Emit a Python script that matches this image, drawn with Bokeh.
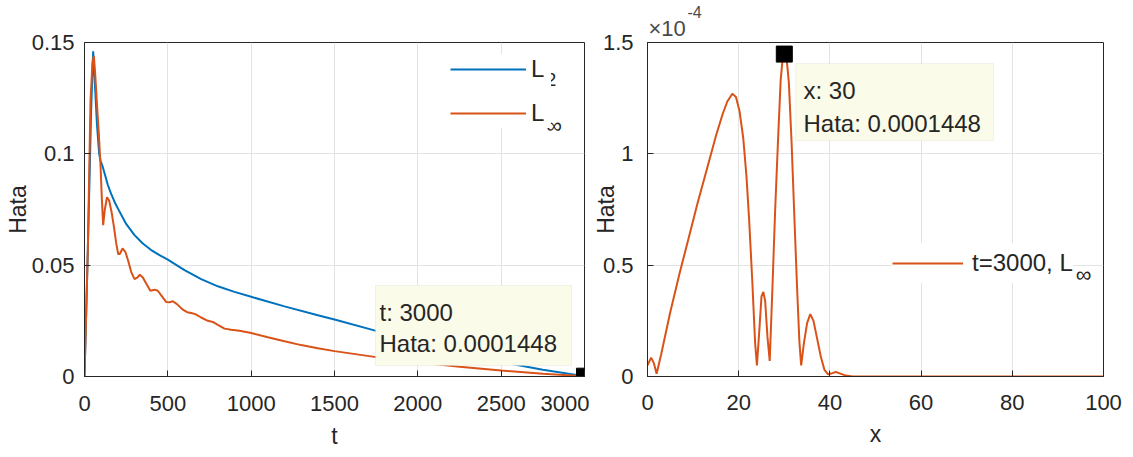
from bokeh.plotting import figure
from bokeh.layouts import row
from bokeh.models import (Legend, LegendItem, Label, BoxAnnotation, FixedTicker,
                          CustomJSTickFormatter, Range1d, Title)
from bokeh.embed import file_html
from bokeh.resources import INLINE

BLUE = "#0072BD"
ORANGE = "#D95319"
FONT = "Liberation Sans"
TXT = "#262626"

# ---------------- data: left panel (error vs time) ----------------
t_l2 = [0, 10, 20, 30, 40, 52, 62, 75, 88, 96, 110, 125, 140, 160, 180, 200, 250, 300,
        350, 400, 450, 500, 600, 700, 800, 900, 1000, 1200, 1400, 1500,
        1750, 2000, 2250, 2500, 2750, 3000]
l2 = [0, 0.028, 0.057, 0.088, 0.12, 0.146, 0.132, 0.113, 0.1, 0.097, 0.094, 0.09, 0.086,
      0.082, 0.0785, 0.0755, 0.0685, 0.0635, 0.0597, 0.0568, 0.0545, 0.0525, 0.0478,
      0.0437, 0.0405, 0.038, 0.0358, 0.0315, 0.0275, 0.0256, 0.0205,
      0.0155, 0.0108, 0.0065, 0.003, 0.00015]

t_linf = [0, 10, 20, 36, 48, 56, 64, 75, 86, 96, 104, 112, 122, 135, 148, 162, 176, 190,
          202, 212, 228, 245, 262, 280, 300, 318, 332, 350, 372, 395, 420, 440, 465, 490,
          510, 530, 555, 590, 616, 640, 665, 700, 740, 770, 800, 840, 880, 930, 1000,
          1100, 1200, 1300, 1400, 1500, 1750, 2000, 2250, 2500, 2750, 3000]
linf = [0, 0.028, 0.057, 0.124, 0.141, 0.144, 0.136, 0.122, 0.109, 0.095, 0.08, 0.068,
        0.075, 0.0805, 0.079, 0.074, 0.0675, 0.06, 0.055, 0.055, 0.0575, 0.056, 0.052,
        0.047, 0.0437, 0.0445, 0.0457, 0.0445, 0.0415, 0.0385, 0.039, 0.0385, 0.036,
        0.0335, 0.0333, 0.0338, 0.0325, 0.030, 0.0289, 0.0285, 0.028, 0.0265, 0.025,
        0.0245, 0.0232, 0.0215, 0.021, 0.0205, 0.0195, 0.0176, 0.0158, 0.0141, 0.0127,
        0.0114, 0.0087, 0.0064, 0.0044, 0.0027, 0.0012, 0.0001448]

# ---------------- data: right panel (error vs x at t=3000) ----------------
x_pos = [0, 0.8, 1.4, 2.0, 3, 5, 7, 9, 11, 13, 15, 16.5, 17.5, 18.6, 19.4, 20.2, 21,
         21.7, 22.3, 23, 23.6, 24, 24.5, 25, 25.4, 25.8, 26.3, 26.8, 27.4, 28, 28.6,
         29.2, 29.6, 30, 30.5, 31, 31.6, 32.2, 32.8, 33.3, 33.7, 34.3, 35, 35.7, 36.4,
         37.2, 38, 38.8, 39.6, 40.5, 41.3, 42.3, 43.5, 45, 50, 60, 70, 80, 90, 100]
hata_x1e4 = [0.05, 0.085, 0.06, 0.012, 0.1, 0.29, 0.46, 0.62, 0.78, 0.93, 1.08, 1.18,
             1.235, 1.27, 1.255, 1.19, 1.07, 0.9, 0.7, 0.42, 0.15, 0.05, 0.2, 0.36, 0.38,
             0.34, 0.18, 0.07, 0.4, 0.75, 1.05, 1.33, 1.42, 1.448, 1.43, 1.32, 1.05, 0.72,
             0.4, 0.16, 0.05, 0.15, 0.24, 0.28, 0.25, 0.17, 0.09, 0.03, 0.01, 0.015, 0.02,
             0.013, 0.004, 0, 0, 0, 0, 0, 0, 0]
hata = [v * 1e-4 for v in hata_x1e4]

left_xticks = [0, 500, 1000, 1500, 2000, 2500, 3000]
left_yticks = [0, 0.05, 0.1, 0.15]
right_xticks = [0, 20, 40, 60, 80, 100]
right_yticks = [0, 0.5e-4, 1e-4, 1.5e-4]


def style(p, tick_standoff_x, tick_standoff_y, xlab_standoff, ylab_standoff):
    p.background_fill_color = "white"
    p.border_fill_color = "white"
    p.outline_line_color = TXT
    p.outline_line_width = 1
    p.grid.grid_line_color = "#E3E3E3"
    p.grid.grid_line_width = 1
    for ax in (p.xaxis[0], p.yaxis[0]):
        ax.axis_line_color = TXT
        ax.major_tick_line_color = TXT
        ax.major_tick_in = 6
        ax.major_tick_out = 0
        ax.minor_tick_line_color = None
        ax.major_label_text_font = FONT
        ax.major_label_text_font_size = "22px"
        ax.major_label_text_color = TXT
        ax.axis_label_text_font = FONT
        ax.axis_label_text_font_size = "23px"
        ax.axis_label_text_font_style = "normal"
        ax.axis_label_text_color = TXT
    p.xaxis[0].major_label_standoff = tick_standoff_x
    p.yaxis[0].major_label_standoff = tick_standoff_y
    p.xaxis[0].axis_label_standoff = xlab_standoff
    p.yaxis[0].axis_label_standoff = ylab_standoff


# ---------------- left figure ----------------
p1 = figure(width=589, height=457, x_range=Range1d(0, 3000), y_range=Range1d(0, 0.15),
            min_border_left=84, min_border_right=5, min_border_top=42, min_border_bottom=81,
            output_backend="svg", toolbar_location=None, x_axis_label="t", y_axis_label="Hata")
p1.title_location = None
style(p1, 19, 10, 9, -2)
p1.xaxis[0].ticker = FixedTicker(ticks=left_xticks)
p1.yaxis[0].ticker = FixedTicker(ticks=left_yticks)
p1.yaxis[0].formatter = CustomJSTickFormatter(code="return tick.toString();")

r_l2 = p1.line(t_l2, l2, line_color=BLUE, line_width=2)
r_linf = p1.line(t_linf, linf, line_color=ORANGE, line_width=2)

leg1 = Legend(items=[LegendItem(label="L", renderers=[r_l2]),
                     LegendItem(label="L", renderers=[r_linf])],
              location=(366, 248), glyph_width=76, glyph_height=30, label_height=30,
              spacing=14, padding=10, label_standoff=5, border_line_color=None,
              background_fill_color="white", background_fill_alpha=1.0,
              label_text_font=FONT, label_text_font_size="24px", label_text_color=TXT)
p1.add_layout(leg1)
p1.add_layout(Label(x=2768, y=0.1334, text="2", text_font=FONT, text_font_size="19px",
                    text_baseline="middle", text_color=TXT))
p1.add_layout(Label(x=2770, y=0.1127, text="\u221e", text_font=FONT, text_font_size="22px",
                    text_baseline="middle", text_color=TXT))

# datatip
p1.add_layout(BoxAnnotation(left=1746, right=2922, bottom=0.0049, top=0.0409,
                            fill_color="#FBFBE9", fill_alpha=1.0, line_color="#D6D6CC",
                            line_width=1))
tip_t = t_linf[-1]
tip_v = linf[-1]
p1.add_layout(Label(x=1770, y=0.0287, text=f"t: {tip_t}", text_font=FONT,
                    text_font_size="24px", text_baseline="middle", text_color=TXT))
p1.add_layout(Label(x=1770, y=0.0148, text=f"Hata: {tip_v:.7f}", text_font=FONT,
                    text_font_size="24px", text_baseline="middle", text_color=TXT))
p1.scatter([tip_t], [tip_v], marker="square", size=16, fill_color="black", line_color="black")

# ---------------- right figure ----------------
p2 = figure(width=544, height=457, x_range=Range1d(0, 100), y_range=Range1d(0, 1.5e-4),
            min_border_left=58, min_border_right=30, min_border_top=42, min_border_bottom=81,
            output_backend="svg", toolbar_location=None, x_axis_label="x", y_axis_label="Hata")
p2.title_location = None
style(p2, 18, 14, 8, -19)
p2.xaxis[0].ticker = FixedTicker(ticks=right_xticks)
p2.yaxis[0].ticker = FixedTicker(ticks=right_yticks)
p2.yaxis[0].formatter = CustomJSTickFormatter(code="return String(Math.round(tick*1e5)/10);")

r_x = p2.line(x_pos, hata, line_color=ORANGE, line_width=2)

leg2 = Legend(items=[LegendItem(label="t=3000, L", renderers=[r_x])],
              location=(245, 93), glyph_width=71, glyph_height=40, label_height=40,
              padding=12, label_standoff=9, border_line_color=None,
              background_fill_color="white", background_fill_alpha=1.0,
              label_text_font=FONT, label_text_font_size="24px", label_text_color=TXT)
p2.add_layout(leg2)
p2.add_layout(Label(x=93.9, y=0.46e-4, text="\u221e", text_font=FONT, text_font_size="22px",
                    text_baseline="middle", text_color=TXT))

imax = hata.index(max(hata))
p2.add_layout(BoxAnnotation(left=32.5, right=75.9, bottom=1.06e-4, top=1.405e-4,
                            fill_color="#FBFBE9", fill_alpha=1.0, line_color="#D6D6CC",
                            line_width=1))
p2.add_layout(Label(x=34.2, y=1.284e-4, text=f"x: {x_pos[imax]}", text_font=FONT,
                    text_font_size="24px", text_baseline="middle", text_color=TXT))
p2.add_layout(Label(x=34.2, y=1.136e-4, text=f"Hata: {hata[imax]:.7f}", text_font=FONT,
                    text_font_size="24px", text_baseline="middle", text_color=TXT))
p2.scatter([x_pos[imax]], [hata[imax]], marker="square", size=16,
           fill_color="black", line_color="black")

# exponent label (x10^-4) as stacked titles above the frame
p2.add_layout(Title(text="\u00d710", align="left", offset=1, standoff=3,
                    text_font=FONT, text_font_size="22px", text_font_style="normal",
                    text_color="#4a4a4a"), "above")
p2.add_layout(Title(text="-4", align="left", offset=40, standoff=-11,
                    text_font=FONT, text_font_size="16px", text_font_style="normal",
                    text_color="#4a4a4a"), "above")

layout = row(p1, p2)
open("out.html", "w").write(file_html(layout, INLINE))
